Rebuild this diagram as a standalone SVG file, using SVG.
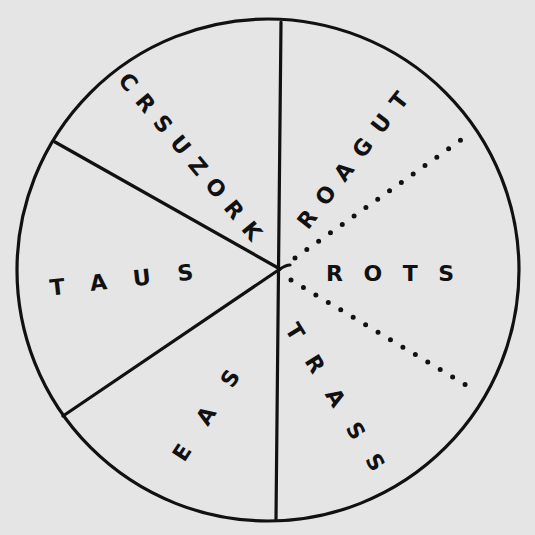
<svg xmlns="http://www.w3.org/2000/svg" width="535" height="535" viewBox="0 0 535 535">
<style>
.ln{stroke:#111;stroke-width:3.2;fill:none;stroke-linecap:round}
.dot{stroke:#111;stroke-width:5;fill:none;stroke-linecap:round;stroke-dasharray:0 14.5}
.lb{font-family:"DejaVu Sans",sans-serif;font-weight:bold;font-size:22px;fill:#111;dominant-baseline:central}
</style>
<rect width="535" height="535" fill="#e5e5e5"/>
<g id="pie">
<circle cx="268" cy="270" r="251" class="ln"/>
</g>
<g id="connectors">
<line x1="281" y1="22" x2="276" y2="519" class="ln"/>
<line x1="280" y1="269" x2="55" y2="142" class="ln"/>
<line x1="280" y1="269" x2="63" y2="416" class="ln"/>
<path d="M280 269 q6 -4 10 -4" class="ln"/>
<line x1="295" y1="258" x2="468" y2="135" class="dot"/>
<line x1="291" y1="280" x2="476" y2="391" class="dot"/>
</g>
<g id="label-cryozork"><text class="lb" transform="translate(123,76) rotate(50.3)" textLength="210" lengthAdjust="spacing">CRSUZORK</text></g>
<g id="label-roagut"><text class="lb" transform="translate(302,226) rotate(-52.2)" textLength="166" lengthAdjust="spacing">ROAGUT</text></g>
<g id="label-rots"><text class="lb" transform="translate(326,273)" textLength="128" lengthAdjust="spacing">ROTS</text></g>
<g id="label-taus"><text class="lb" transform="translate(50,288) rotate(-6.4)" textLength="144" lengthAdjust="spacing">TAUS</text></g>
<g id="label-eas"><text class="lb" transform="translate(178,459) rotate(-57)" textLength="104" lengthAdjust="spacing">EAS</text></g>
<g id="label-trass"><text class="lb" transform="translate(291,325) rotate(58.6)" textLength="169" lengthAdjust="spacing">TRASS</text></g>
</svg>
